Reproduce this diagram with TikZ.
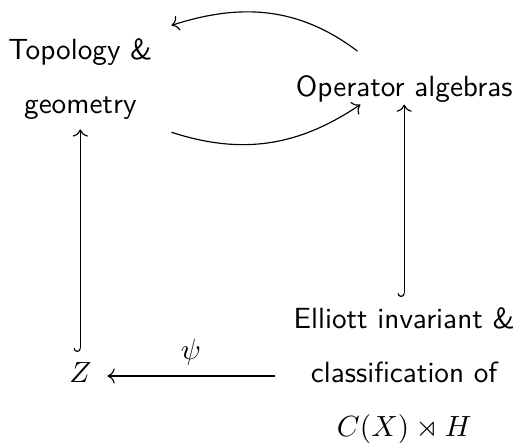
\documentclass[tikz,border=0pt]{standalone}
\usepackage{amssymb}
\usetikzlibrary{arrows.meta}

\begin{document}
\begin{tikzpicture}[
        every node/.style={font=\sffamily, anchor=base},
        hookarr/.style={{Hooks[right]}-To},
        flecha/.style={-To}
    ]
        \useasboundingbox (0,0) rectangle (176pt,151.4pt);
        % Bloques de texto del diagrama
        \node[align=center] (topo) at (27.5pt,112.7pt) {Topology \&\\[6.3pt]geometry};
        \node (ops) at (138.4pt,118.2pt) {Operator algebras};
        \node[align=center] (ell) at (138.4pt,2pt) {Elliott invariant \&\\[6.5pt]classification of\\[6.5pt]$C(X)\rtimes H$};
        \node (zed) at (27.5pt,20.5pt) {$Z$};
        
        % Flechas curvas entre topologia y algebras
        \draw[flecha] ([xshift=-16pt,yshift=5pt]ops.north) to[out=143, in=18] ([xshift=3pt,yshift=1pt]topo.north east);
        \draw[flecha] ([xshift=3pt,yshift=-1pt]topo.south east) to[out=-18, in=-146] ([xshift=-15pt,yshift=3pt]ops.south);
        
        % Flechas rectas
        \draw[hookarr] (zed) -- (topo);
        \draw[hookarr] (ell) -- ([yshift=3pt]ops.south);
        \draw[flecha] ([xshift=-3pt]ell.west |- zed.mid) -- node[above] {$\psi$} ([xshift=2pt]zed.mid east);
\end{tikzpicture}
\end{document}
